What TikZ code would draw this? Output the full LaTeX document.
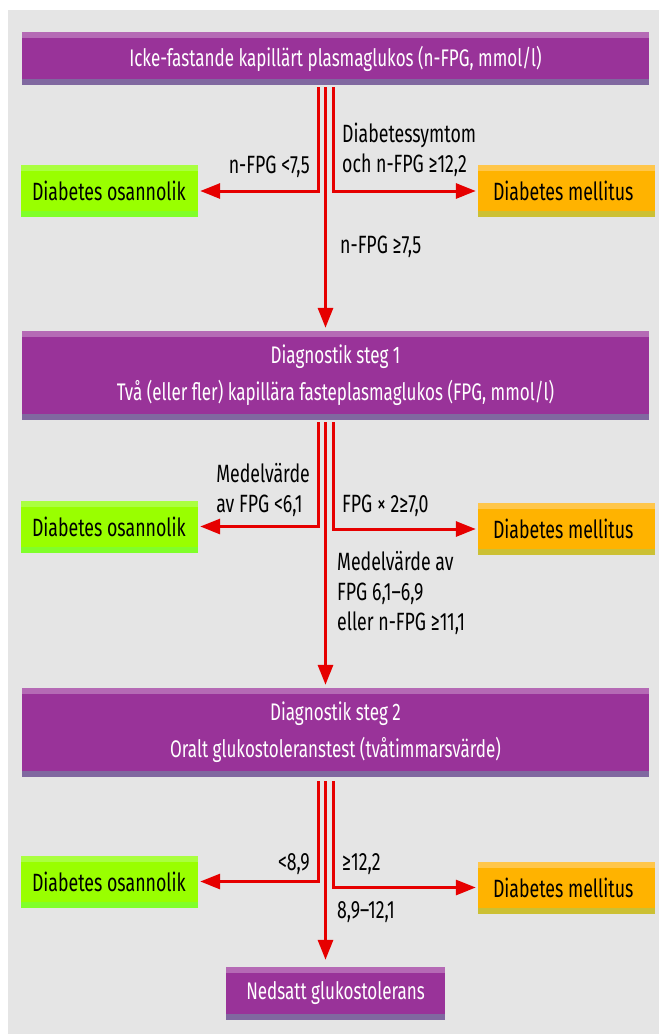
\documentclass[tikz,border=0pt]{standalone}
\usepackage{fontspec}
\setmainfont{Fira Sans}[FakeStretch=0.71]
\usetikzlibrary{arrows.meta,positioning,calc}

\definecolor{bggray}{HTML}{E5E5E5}
\definecolor{purp}{HTML}{993399}
\definecolor{purptop}{HTML}{B56AB5}
\definecolor{purpbot}{HTML}{8068A0}
\definecolor{grn}{HTML}{99FF00}
\definecolor{grntop}{HTML}{AAFF40}
\definecolor{grnbot}{HTML}{80FF2A}
\definecolor{orng}{HTML}{FFB300}
\definecolor{orngtop}{HTML}{FFC64A}
\definecolor{orngbot}{HTML}{CCC033}
\definecolor{flowred}{HTML}{E60000}

\tikzset{
	stripes/.style n args={2}{path picture={
		\fill[#1] (path picture bounding box.north west) rectangle ([yshift=-6pt]path picture bounding box.north east);
		\fill[#2] ([yshift=6pt]path picture bounding box.south west) rectangle (path picture bounding box.south east);}},
	stepbox/.style={rectangle, fill=purp, text=white, inner sep=0pt, minimum width=627pt,
		align=center, font=\fontsize{24}{37}\selectfont, stripes={purptop}{purpbot}},
	endbox/.style={rectangle, inner sep=0pt, text width=177pt, align=flush left,
		minimum height=52pt, font=\fontsize{25}{30}\selectfont},
	nobox/.style={endbox, fill=grn, execute at begin node={\hspace*{11pt}}, stripes={grntop}{grnbot}},
	yesbox/.style={endbox, fill=orng, execute at begin node={\hspace*{15pt}}, stripes={orngtop}{orngbot}},
	flow/.style={draw=flowred, line width=3pt, -{Triangle[length=20pt,width=15pt]}, shorten >=2pt},
	cond/.style={inner sep=0pt, font=\fontsize{25}{30}\selectfont},
}

\begin{document}
\begin{tikzpicture}[x=1pt,y=-1pt]

	\useasboundingbox (0,0) rectangle (659,1034);
	\fill[bggray] (8,10) rectangle (659,1034);

	% main boxes
	\node[stepbox, minimum height=53pt] (icke) at (335.5,58.5) {Icke-fastande kapillärt plasmaglukos (n-FPG, mmol/l)};
	\node[stepbox, minimum height=89pt] (steg1) at (335.5,375.5) {Diagnostik steg 1\\Två (eller fler) kapillära fasteplasmaglukos (FPG, mmol/l)};
	\node[stepbox, minimum height=89pt] (steg2) at (335.5,732.5) {Diagnostik steg 2\\Oralt glukostoleranstest (tvåtimmarsvärde)};
	\node[stepbox, minimum width=219pt, minimum height=53pt] (nedsatt) at (335.5,993.5) {Nedsatt glukostolerans};

	% outcome boxes
	\node[nobox] (no1) at (109.5,191) {Diabetes osannolik};
	\node[nobox] (no2) at (109.5,526.5) {Diabetes osannolik};
	\node[nobox] (no3) at (109.5,881.5) {Diabetes osannolik};
	\node[yesbox] (yes1) at (566.5,191) {Diabetes mellitus};
	\node[yesbox] (yes2) at (566.5,529) {Diabetes mellitus};
	\node[yesbox] (yes3) at (566.5,887.5) {Diabetes mellitus};

	% branch points
	\coordinate (b1) at (325.5,87);
	\coordinate (b2) at (325.5,422);
	\coordinate (b3) at (325.5,781);

	\draw[flow] ([xshift=-7.5pt]b1) |- (no1);
	\draw[flow] ([xshift=7.5pt]b1) |- (yes1);
	\draw[flow, shorten >=3pt] (b1) -- (b1 |- steg1.north);

	\draw[flow] ([xshift=-7.5pt]b2) |- (no2);
	\draw[flow] ([xshift=7.5pt]b2) |- (yes2);
	\draw[flow, shorten >=3pt] (b2) -- (b2 |- steg2.north);

	\draw[flow] ([xshift=-7.5pt]b3) |- (no3);
	\draw[flow] ([xshift=7.5pt]b3) |- (yes3);
	\draw[flow, shorten >=7pt] (b3) -- (b3 |- nedsatt.north);

	% conditions (base = last line)
	\node[cond, anchor=base east] (lt1) at (310,173) {n-FPG <7,5};
	\node[cond, anchor=base west, align=left] (rt1) at (342,172) {Diabetessymtom\\och n-FPG ≥12,2};
	\node[cond, anchor=base west] (dn1) at (340,253) {n-FPG ≥7,5};

	\node[cond, anchor=base east, align=left] (lt2) at (310,512) {Medelvärde\\av FPG <6,1};
	\node[cond, anchor=base west] (rt2) at (342,512) {FPG × 2≥7,0};
	\node[cond, anchor=base west, align=left] (dn2) at (337,630) {Medelvärde av\\FPG 6,1–6,9\\eller n-FPG ≥11,1};

	\node[cond, anchor=base east] (lt3) at (310,870) {<8,9};
	\node[cond, anchor=base west] (rt3) at (342,870) {≥12,2};
	\node[cond, anchor=base west] (dn3) at (337,918) {8,9–12,1};

\end{tikzpicture}
\end{document}
